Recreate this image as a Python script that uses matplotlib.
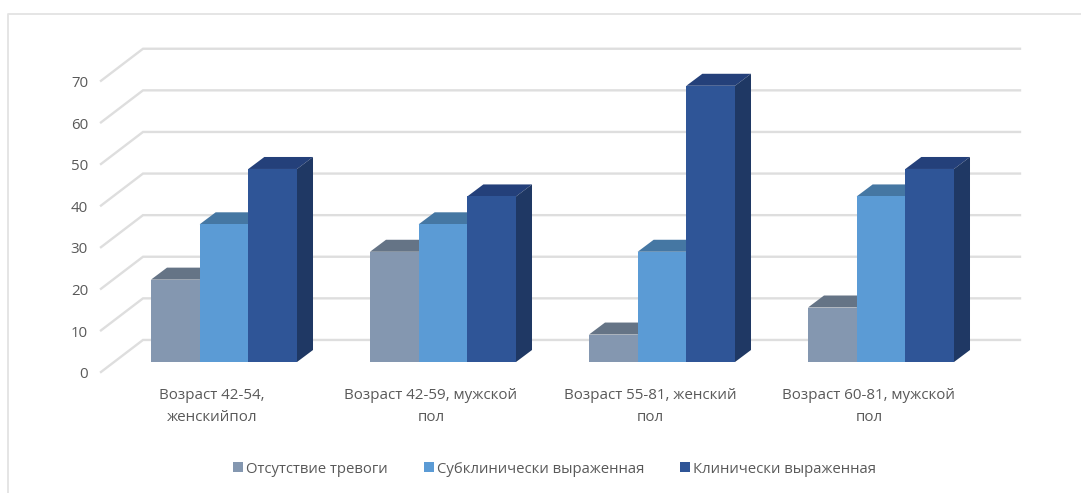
import matplotlib
matplotlib.use("Agg")
import matplotlib.pyplot as plt
from matplotlib.lines import Line2D
from matplotlib.patches import Polygon, Rectangle

plt.rcParams["font.family"] = ["Open Sans", "DejaVu Sans"]

categories = ["Возраст 42-54,\nженскийпол", "Возраст 42-59, мужской\nпол",
              "Возраст 55-81, женский\nпол", "Возраст 60-81, мужской\nпол"]
series_names = ["Отсутствие тревоги", "Субклинически выраженная", "Клинически выраженная"]
absent = [19.8, 26.5, 6.6, 13.1]
subclinical = [33.1, 33.1, 26.5, 39.8]
clinical = [46.4, 39.8, 66.4, 46.4]
y_ticks = [0, 10, 20, 30, 40, 50, 60, 70]

front_colors = ["#8497B0", "#5B9BD5", "#2F5597"]
top_colors = ["#657486", "#4577A3", "#24407A"]
side_colors = ["#66748A", "#3F72A0", "#1F3864"]
grid_color = "#DEDEDE"
text_color = "#595959"

W, H = 1081, 493
PX_X = 219.0   # pixels per category
PX_Y = 4.16    # pixels per value unit
X0, Y0 = 224.0, 362.0  # pixel of category 0 / value 0

fig = plt.figure(figsize=(W / 100, H / 100), dpi=100)
ax = fig.add_axes([0, 0, 1, 1])
ax.set_xlim(-X0 / PX_X, (W - X0) / PX_X)
ax.set_ylim((Y0 - H) / PX_Y, Y0 / PX_Y)
ax.axis("off")

# 3d look: depth offset of the bars, in data units
dx, dy = 16 / PX_X, 12 / PX_Y
bar_w = 48.67 / PX_X

# gridlines: slanted side part + back wall part
wall_left = (143 - X0) / PX_X
wall_right = (1020 - X0) / PX_X
front_left = (101 - X0) / PX_X
for v in y_ticks:
    ax.plot([front_left, wall_left, wall_right],
            [v - 2.4, v + 5.3, v + 5.3],
            color=grid_color, lw=1.7, zorder=1, solid_joinstyle="miter")

for i, values in enumerate([absent, subclinical, clinical]):
    for c, v in enumerate(values):
        x = c + (i - 1.5) * bar_w
        ax.add_patch(Polygon([(x, v), (x + bar_w, v), (x + bar_w + dx, v + dy), (x + dx, v + dy)],
                             fc=top_colors[i], ec="none", zorder=2 + i))
        ax.add_patch(Polygon([(x + bar_w, 0), (x + bar_w + dx, dy), (x + bar_w + dx, v + dy), (x + bar_w, v)],
                             fc=side_colors[i], ec="none", zorder=2 + i))
        ax.add_patch(Rectangle((x, 0), bar_w, v, fc=front_colors[i], ec="none", zorder=2.5 + i))

for v in y_ticks:
    ax.text((88 - X0) / PX_X, v - 3.05, str(v), ha="right", va="center",
            fontsize=10.8, color=text_color)

for c, label in enumerate(categories):
    ax.text(c - 12 / PX_X, -6.2, label, ha="center", va="top", fontsize=10.9,
            color=text_color, linespacing=1.65)

# legend
leg_y = (Y0 - 467) / PX_Y
for x_px, col, name in zip([233, 424, 680], front_colors, series_names):
    ax.add_patch(Rectangle(((x_px - X0) / PX_X, leg_y - 5 / PX_Y), 10 / PX_X, 10 / PX_Y,
                           fc=col, ec="none"))
    ax.text((x_px + 13 - X0) / PX_X, leg_y - 0.5, name, ha="left", va="center",
            fontsize=10.7, color=text_color)

# chart frame: only top and left edges show in the picture
fig.add_artist(Line2D([8 / W, 8 / W, 1], [0, 1 - 14 / H, 1 - 14 / H],
                      color="#E3E3E3", lw=1.3, transform=fig.transFigure))

fig.savefig("out.png", dpi=100)
